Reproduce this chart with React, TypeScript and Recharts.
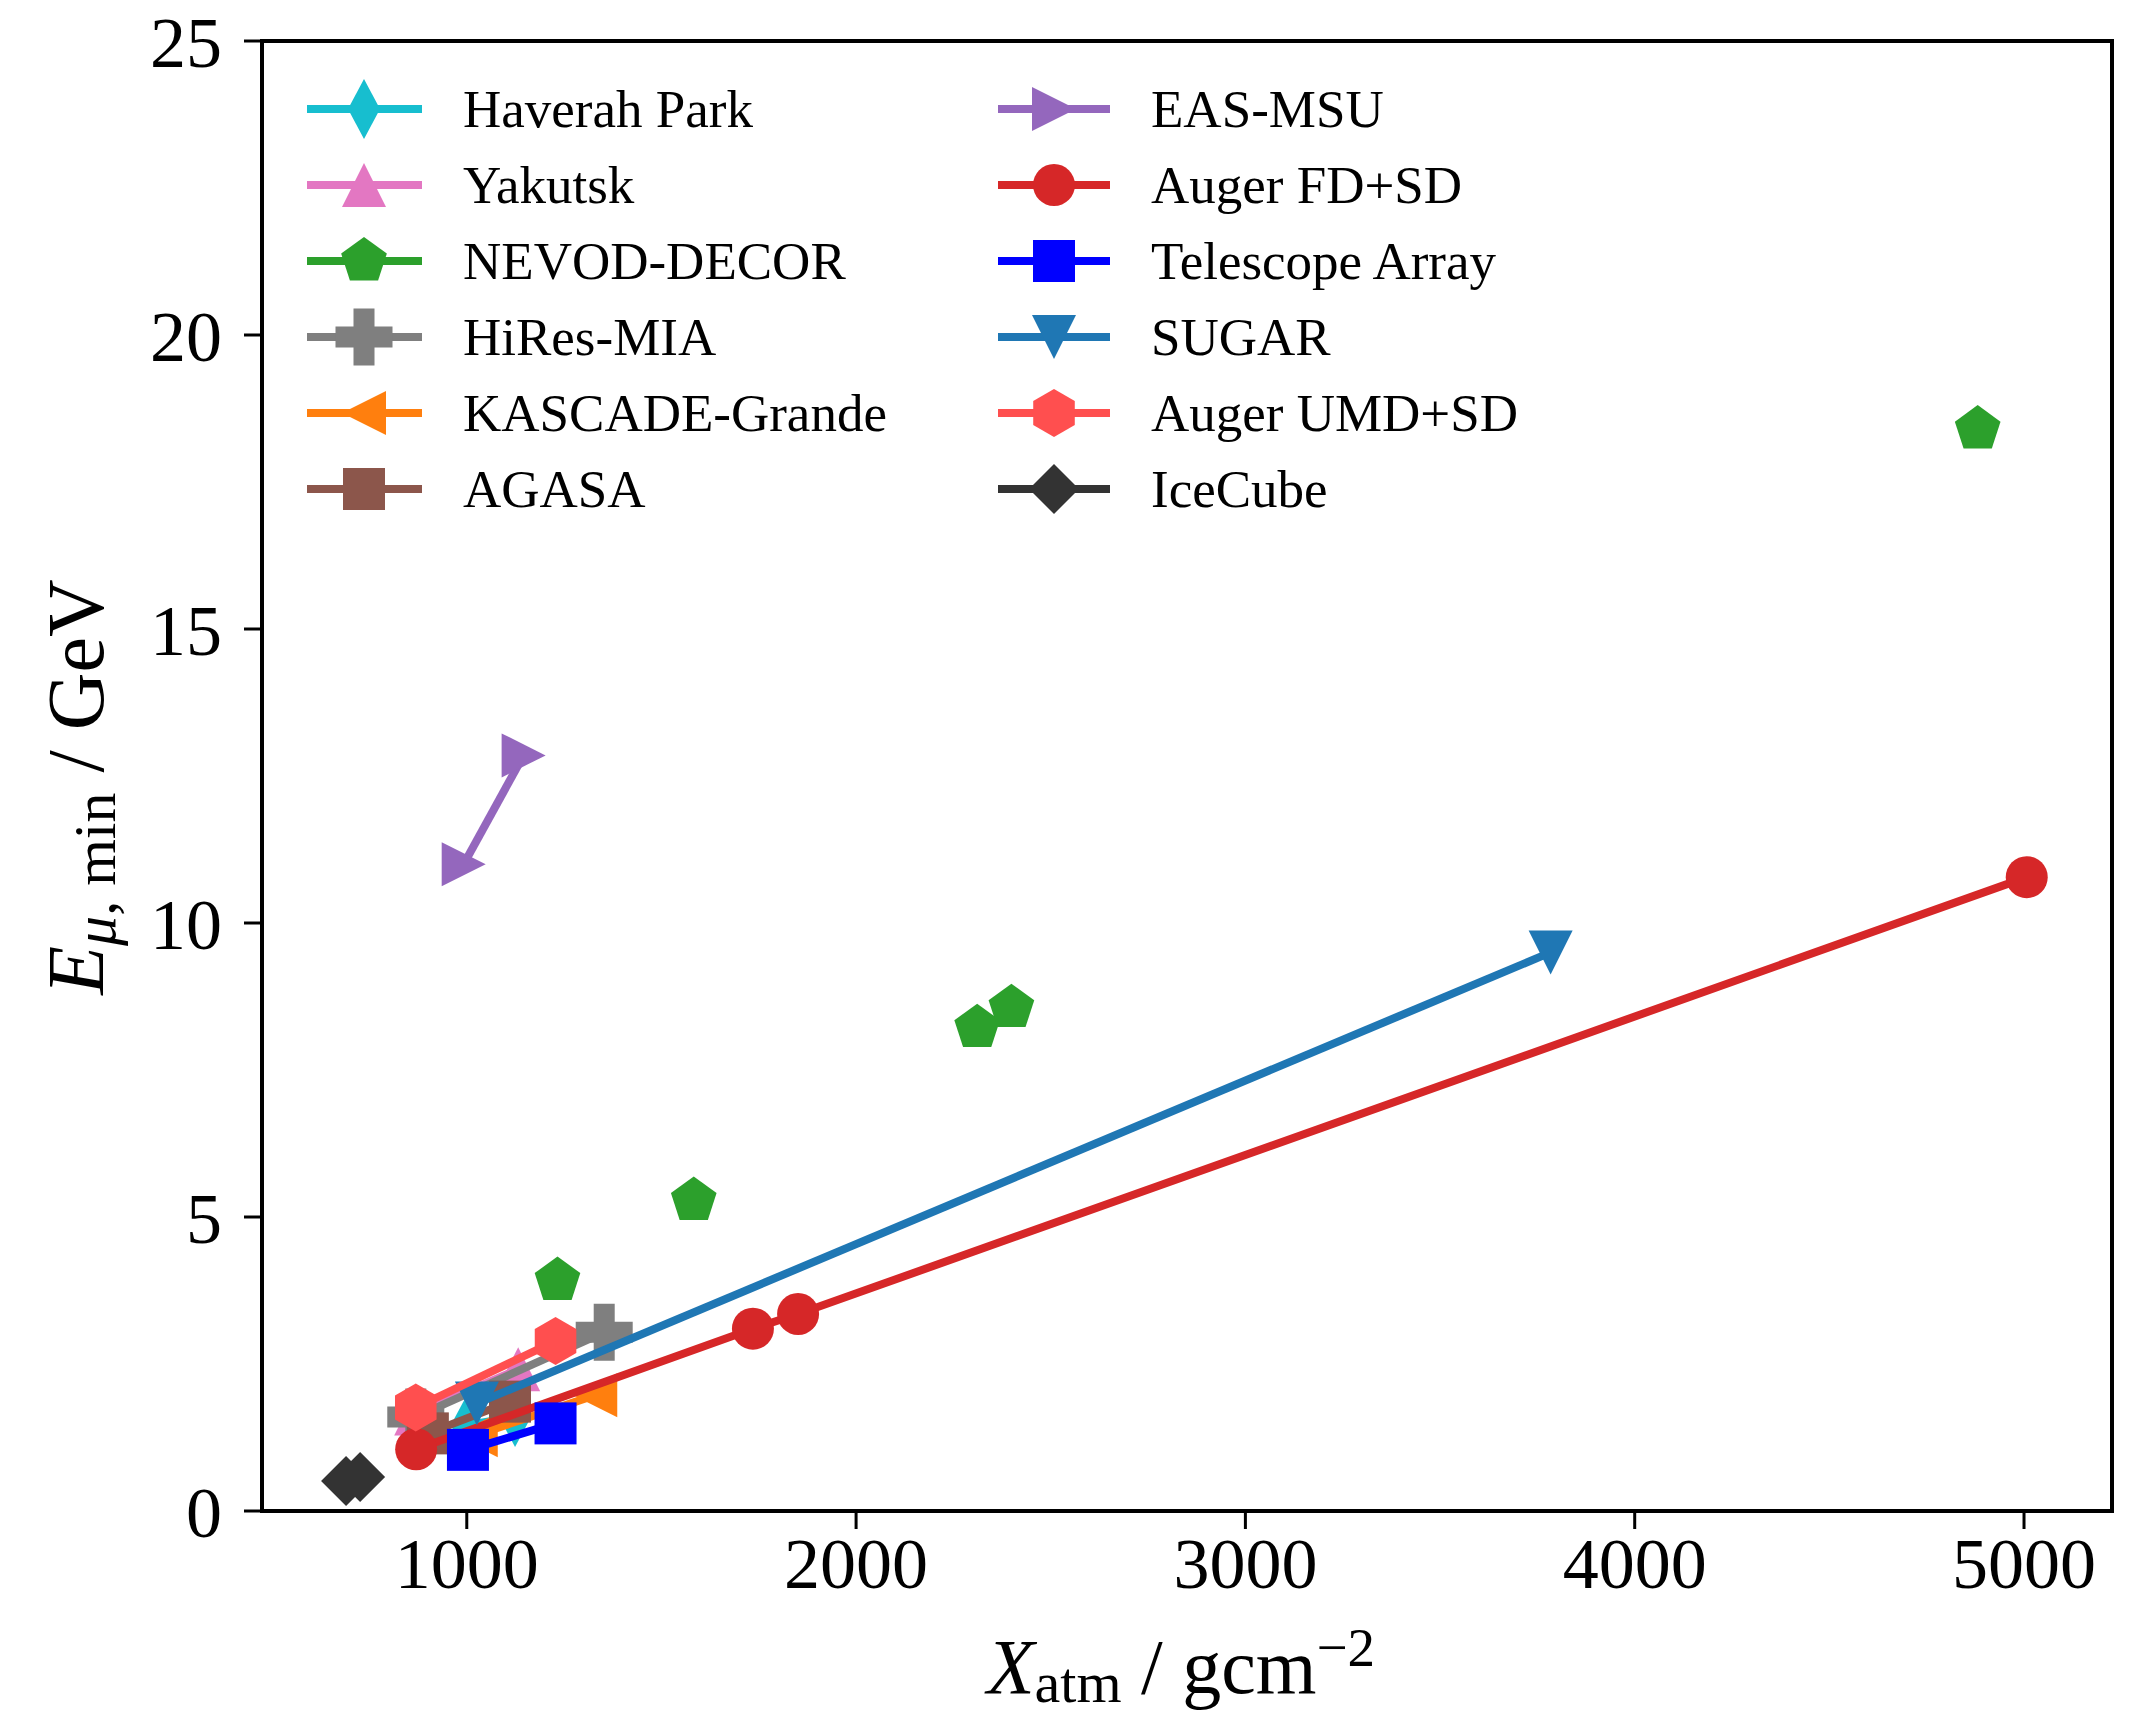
import { Legend, ReferenceArea, Scatter, ScatterChart, XAxis, YAxis } from 'recharts'

// atmospheric depth (g/cm^2) and minimal muon energy (GeV) per experiment
const haverahX = [1000, 1124]
const haverahY = [1.46, 1.6]
const yakutskX = [870, 1132]
const yakutskY = [1.66, 2.41]
const nevodX = [1233, 1583, 2311, 2399, 4881]
const nevodY = [3.92, 5.28, 8.22, 8.56, 18.4]
const hiresX = [869, 1353]
const hiresY = [1.6, 3.04]
const kascadeX = [1023, 1330]
const kascadeY = [1.29, 1.97]
const agasaX = [900, 1111]
const agasaY = [1.32, 1.86]
const easX = [992, 1146]
const easY = [11.0, 12.85]
const augerFdX = [870, 1735, 1851, 5007]
const augerFdY = [1.05, 3.1, 3.35, 10.78]
const taX = [1003, 1228]
const taY = [1.04, 1.49]
const sugarX = [1026, 3784]
const sugarY = [1.83, 9.5]
const umdX = [869, 1228]
const umdY = [1.76, 2.89]
const icecubeX = [690, 726]
const icecubeY = [0.51, 0.58]

const xTicks = [1000, 2000, 3000, 4000, 5000]
const yTicks = [0, 5, 10, 15, 20, 25]

const FONT = '"Liberation Serif", "Times New Roman", serif'

const toPoints = (xs: number[], ys: number[]) => xs.map((x, i) => ({ x, y: ys[i] }))

type Kind =
  | 'thinDiamond'
  | 'triUp'
  | 'pentagon'
  | 'plus'
  | 'triLeft'
  | 'square'
  | 'triRight'
  | 'circle'
  | 'triDown'
  | 'hexagon'
  | 'diamond'

const series: { name: string; color: string; kind: Kind; xs: number[]; ys: number[]; line: boolean }[] = [
  { name: 'Haverah Park', color: '#17becf', kind: 'thinDiamond', xs: haverahX, ys: haverahY, line: true },
  { name: 'Yakutsk', color: '#e377c2', kind: 'triUp', xs: yakutskX, ys: yakutskY, line: true },
  { name: 'NEVOD-DECOR', color: '#2ca02c', kind: 'pentagon', xs: nevodX, ys: nevodY, line: false },
  { name: 'HiRes-MIA', color: '#7f7f7f', kind: 'plus', xs: hiresX, ys: hiresY, line: true },
  { name: 'KASCADE-Grande', color: '#ff7f0e', kind: 'triLeft', xs: kascadeX, ys: kascadeY, line: true },
  { name: 'AGASA', color: '#8c564b', kind: 'square', xs: agasaX, ys: agasaY, line: true },
  { name: 'EAS-MSU', color: '#9467bd', kind: 'triRight', xs: easX, ys: easY, line: true },
  { name: 'Auger FD+SD', color: '#d62728', kind: 'circle', xs: augerFdX, ys: augerFdY, line: true },
  { name: 'Telescope Array', color: '#0000ff', kind: 'square', xs: taX, ys: taY, line: true },
  { name: 'SUGAR', color: '#1f77b4', kind: 'triDown', xs: sugarX, ys: sugarY, line: true },
  { name: 'Auger UMD+SD', color: '#ff4f4f', kind: 'hexagon', xs: umdX, ys: umdY, line: true },
  { name: 'IceCube', color: '#333333', kind: 'diamond', xs: icecubeX, ys: icecubeY, line: true },
]

const poly = (cx: number, cy: number, pts: number[][]) =>
  pts.map(([dx, dy]) => `${cx + dx},${cy + dy}`).join(' ')

const regular = (n: number, r: number) =>
  Array.from({ length: n }, (_, k) => {
    const a = (-90 + (k * 360) / n) * (Math.PI / 180)
    return [r * Math.cos(a), r * Math.sin(a)]
  })

function Marker({ kind, color, cx, cy }: { kind: Kind; color: string; cx: number; cy: number }) {
  const t = 22
  switch (kind) {
    case 'circle':
      return <circle cx={cx} cy={cy} r={21} fill={color} />
    case 'square':
      return <rect x={cx - 21} y={cy - 21} width={42} height={42} fill={color} />
    case 'thinDiamond':
      return <polygon points={poly(cx, cy, [[0, -30], [16, 0], [0, 30], [-16, 0]])} fill={color} />
    case 'diamond':
      return <polygon points={poly(cx, cy, [[0, -25], [25, 0], [0, 25], [-25, 0]])} fill={color} />
    case 'triUp':
      return <polygon points={poly(cx, cy, [[0, -t], [t, t], [-t, t]])} fill={color} />
    case 'triDown':
      return <polygon points={poly(cx, cy, [[0, t], [t, -t], [-t, -t]])} fill={color} />
    case 'triLeft':
      return <polygon points={poly(cx, cy, [[-t, 0], [t, -t], [t, t]])} fill={color} />
    case 'triRight':
      return <polygon points={poly(cx, cy, [[t, 0], [-t, -t], [-t, t]])} fill={color} />
    case 'pentagon':
      return <polygon points={poly(cx, cy, regular(5, 24))} fill={color} />
    case 'hexagon':
      return <polygon points={poly(cx, cy, regular(6, 24))} fill={color} />
    case 'plus': {
      const h = 28.5
      const a = 10.5
      return (
        <polygon
          points={poly(cx, cy, [
            [-a, -h], [a, -h], [a, -a], [h, -a], [h, a], [a, a],
            [a, h], [-a, h], [-a, a], [-h, a], [-h, -a], [-a, -a],
          ])}
          fill={color}
        />
      )
    }
  }
  return null
}

function LegendBox() {
  const cols = [
    { x1: 307, x2: 422, mx: 364, tx: 463 },
    { x1: 998, x2: 1110, mx: 1054, tx: 1151 },
  ]
  return (
    <svg width={1700} height={560} style={{ display: 'block', overflow: 'visible' }}>
      {series.map((s, i) => {
        const c = cols[Math.floor(i / 6)]
        const y = 109 + (i % 6) * 76
        return (
          <g key={s.name}>
            <line x1={c.x1} x2={c.x2} y1={y} y2={y} stroke={s.color} strokeWidth={8} />
            <Marker kind={s.kind} color={s.color} cx={c.mx} cy={y} />
            <text x={c.tx} y={y + 18} fontFamily={FONT} fontSize={53} fill='#000'>
              {s.name}
            </text>
          </g>
        )
      })}
    </svg>
  )
}

function XTitle(props: any) {
  const vb = props.viewBox ?? { x: 262, y: 1511, width: 1850, height: 206 }
  const x = vb.x + vb.width / 2 - 6
  const y = vb.y + 182
  return (
    <text x={x} y={y} textAnchor='middle' fontFamily={FONT} fontSize={78} fill='#000'>
      <tspan fontStyle='italic'>X</tspan>
      <tspan fontSize={58} dy={9}>atm</tspan>
      <tspan dy={-9}>{' / gcm'}</tspan>
      <tspan fontSize={55} dy={-27}>−2</tspan>
    </text>
  )
}

function YTitle(props: any) {
  const vb = props.viewBox ?? { x: 0, y: 41, width: 262, height: 1470 }
  const x = vb.x + 103
  const y = vb.y + vb.height / 2 + 11
  return (
    <text
      x={x}
      y={y}
      textAnchor='middle'
      transform={`rotate(-90, ${x}, ${y})`}
      fontFamily={FONT}
      fontSize={80}
      fill='#000'
    >
      <tspan fontStyle='italic'>E</tspan>
      <tspan fontSize={60} dy={12} fontStyle='italic'>μ</tspan>
      <tspan fontSize={60}>, min</tspan>
      <tspan dy={-12}>{' / GeV'}</tspan>
    </text>
  )
}

const tickStyle = { fontSize: 72, fontFamily: FONT, fill: '#000' }

export default function App() {
  return (
    <div style={{ position: 'absolute', left: 0, top: 0, background: '#fff' }}>
      <ScatterChart width={2146} height={1717} margin={{ top: 41, right: 34, bottom: 0, left: 0 }}>
        <XAxis
          type='number'
          dataKey='x'
          domain={[474, 5226]}
          ticks={xTicks}
          allowDataOverflow
          height={206}
          tickSize={18}
          tickMargin={8}
          tick={tickStyle}
          tickLine={{ stroke: '#000', strokeWidth: 3 }}
          axisLine={{ stroke: '#000', strokeWidth: 4 }}
          label={{ content: XTitle }}
        />
        <YAxis
          type='number'
          dataKey='y'
          domain={[0, 25]}
          ticks={yTicks}
          allowDataOverflow
          width={262}
          tickSize={18}
          tickMargin={22}
          tick={tickStyle}
          tickLine={{ stroke: '#000', strokeWidth: 3 }}
          axisLine={{ stroke: '#000', strokeWidth: 4 }}
          label={{ content: YTitle }}
        />
        <ReferenceArea
          x1={474}
          x2={5226}
          y1={0}
          y2={25}
          fill='none'
          stroke='#000'
          strokeWidth={4}
          ifOverflow='visible'
        />
        {series.map((s) => (
          <Scatter
            key={s.name}
            name={s.name}
            data={toPoints(s.xs, s.ys)}
            fill={s.color}
            line={s.line ? { stroke: s.color, strokeWidth: 8 } : false}
            isAnimationActive={false}
            shape={(p: any) => <Marker kind={s.kind} color={s.color} cx={p.cx} cy={p.cy} />}
          />
        ))}
        <Legend
          layout='horizontal'
          verticalAlign='middle'
          align='center'
          wrapperStyle={{ position: 'absolute', left: 0, top: 0, width: 1700, height: 560 }}
          content={() => <LegendBox />}
        />
      </ScatterChart>
    </div>
  )
}
